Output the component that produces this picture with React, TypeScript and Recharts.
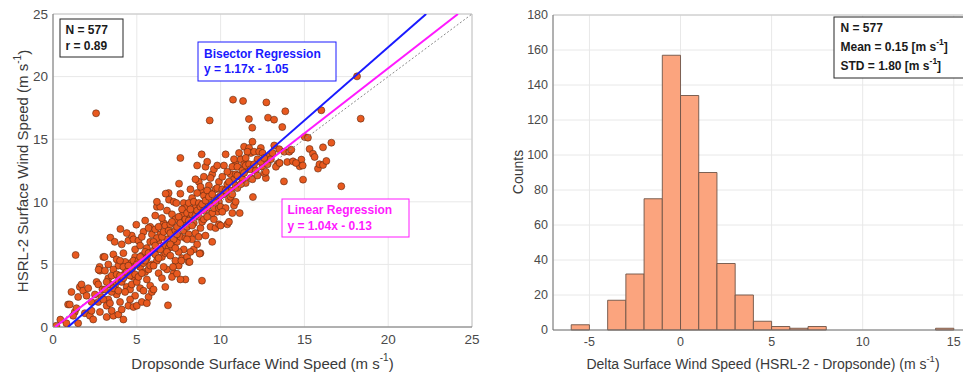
import React from 'react';
import { ScatterChart, Scatter, XAxis, YAxis, CartesianGrid, ReferenceLine, ReferenceArea } from 'recharts';

// ---------- Left panel data ----------
const scatterPairs: [number, number][] = [
  [0.2, 0.1], [0.44, 0.59], [0.8, 0.3], [0.9, 1.8],
  [1.0, 1.8], [1.1, 2.8], [1.35, 5.75], [1.3, 1.2], [1.5, 0.3], [1.4, 1.5], [1.6, 3.2], [1.7, 3.4], [1.5, 2.4], [1.9, 1.1], [1.8, 2.9], [2.0, 2.5], [1.2, 0.9],
  [2.1, 3.1], [2.2, 0.9], [2.3, 1.3], [2.5, 2.6], [2.6, 3.6], [2.7, 3.4], [2.8, 1.2], [2.9, 2.4], [2.4, 0.6], [2.8, 4.5], [2.57, 17.07], [2.3, 2.0], [2.95, 3.0], [2.7, 2.0], [2.78, 4.8], [2.72, 4.58],
  [3.0, 5.6], [3.1, 4.5], [3.2, 1.7], [3.3, 2.2], [3.3, 3.9], [3.42, 7.14], [3.5, 4.1], [3.6, 5.8], [3.7, 3.3], [3.2, 0.8], [3.6, 0.9], [3.8, 2.6], [3.9, 4.9], [3.5, 2.8], [3.4, 3.4], [3.68, 6.8], [3.9, 1.0], [3.1, 3.0], [3.8, 5.4], [3.6, 4.6], [3.3, 5.0], [3.9, 3.7], [3.5, 1.3], [3.08, 5.6],
  [3.0, 2.2], [3.2, 3.6], [3.4, 1.9], [3.6, 3.1], [3.8, 4.2], [3.9, 2.9],
  [4.02, 7.83], [4.1, 6.6], [4.2, 5.9], [4.3, 4.3], [4.4, 3.2], [4.2, 0.6], [4.5, 6.9], [4.6, 5.1], [4.7, 7.3], [4.8, 4.0], [4.9, 2.5], [4.0, 2.0], [4.1, 3.6], [4.3, 5.2], [4.5, 1.7], [4.6, 3.0], [4.7, 4.6], [4.9, 6.2], [4.4, 7.5], [4.8, 1.6], [4.2, 4.8], [4.6, 2.2], [4.0, 5.3], [4.9, 5.6], [4.3, 2.8], [4.7, 3.4], [4.5, 4.9], [4.1, 1.4], [4.8, 7.0],
  [4.0, 4.1], [4.2, 3.9], [4.4, 4.4], [4.6, 4.1], [4.8, 5.3], [4.9, 4.2],
  [4.97, 8.17], [5.1, 6.9], [5.2, 3.1], [5.3, 5.7], [5.4, 7.6], [5.5, 4.4], [5.6, 6.3], [5.7, 2.4], [5.8, 8.0], [5.9, 5.0], [5.0, 1.7], [5.2, 4.8], [5.4, 2.9], [5.6, 3.8], [5.8, 6.8], [5.1, 5.3], [5.3, 7.2], [5.5, 6.0], [5.7, 4.6], [5.9, 7.4], [5.0, 3.6], [5.3, 2.0], [5.6, 5.5], [5.8, 3.3], [5.2, 6.5], [5.4, 5.1], [5.7, 7.9], [5.9, 2.8], [5.1, 4.0], [5.5, 8.5], [5.6, 1.9],
  [5.0, 5.0], [5.2, 5.6], [5.3, 4.3], [5.5, 5.3], [5.7, 5.9], [5.8, 4.9],
  [6.0, 6.1], [6.1, 8.9], [6.2, 9.6], [6.3, 4.3], [6.4, 7.4], [6.5, 5.6], [6.6, 8.3], [6.7, 3.2], [6.8, 7.0], [6.9, 10.7], [6.0, 3.0], [6.2, 5.3], [6.4, 9.6], [6.6, 6.5], [6.8, 4.6], [6.1, 7.8], [6.3, 6.9], [6.5, 8.7], [6.7, 5.9], [6.86, 1.73], [6.0, 4.9], [6.3, 8.0], [6.5, 3.9], [6.8, 9.3], [6.2, 7.1], [6.6, 4.8], [6.9, 6.3], [6.1, 5.8], [6.4, 6.2], [6.7, 8.1], [6.92, 10.17], [6.2, 10.0], [6.72, 10.65],
  [6.0, 6.8], [6.1, 6.5], [6.3, 5.5], [6.5, 7.2], [6.6, 7.6], [6.8, 6.0], [6.9, 7.7],
  [7.0, 7.5], [7.1, 9.0], [7.2, 4.3], [7.3, 8.6], [7.4, 6.8], [7.52, 11.45], [7.6, 10.65], [7.7, 5.5], [7.8, 8.4], [7.9, 3.8], [7.0, 5.7], [7.2, 10.0], [7.36, 9.9], [7.6, 7.2], [7.8, 9.9], [7.1, 6.4], [7.3, 7.7], [7.5, 4.9], [7.7, 8.9], [7.9, 7.1], [7.0, 8.2], [7.3, 5.3], [7.6, 13.5], [7.8, 6.2], [7.2, 7.0], [7.4, 8.0], [7.9, 9.5], [7.1, 4.0], [7.5, 6.0], [7.7, 9.4], [7.6, 3.8],
  [7.0, 6.6], [7.1, 8.4], [7.3, 6.3], [7.4, 7.4], [7.5, 8.8], [7.6, 8.3], [7.8, 7.7], [7.9, 8.6], [7.4, 4.26], [7.16, 4.8], [7.66, 5.3],
  [8.0, 9.1], [8.1, 7.4], [8.2, 8.7], [8.3, 10.3], [8.4, 6.2], [8.5, 9.6], [8.6, 12.9], [8.7, 11.6], [8.8, 7.9], [8.9, 10.9], [8.0, 5.6], [8.2, 11.0], [8.4, 8.3], [8.6, 10.7], [8.8, 5.9], [8.1, 9.9], [8.3, 7.0], [8.5, 11.8], [8.7, 8.8], [8.89, 3.7], [8.0, 8.0], [8.3, 9.0], [8.6, 6.6], [8.87, 13.79], [8.2, 6.0], [8.4, 10.0], [8.7, 9.9], [8.5, 7.5], [8.8, 11.2], [8.1, 5.2], [8.9, 8.4],
  [8.0, 7.0], [8.1, 8.5], [8.2, 9.4], [8.3, 8.1], [8.5, 8.9], [8.6, 9.3], [8.7, 7.2], [8.8, 9.6], [8.9, 9.8], [8.15, 5.2], [8.75, 5.86],
  [9.0, 10.5], [9.1, 12.8], [9.2, 9.4], [9.3, 11.3], [9.4, 8.0], [9.5, 12.2], [9.6, 10.0], [9.7, 7.9], [9.8, 9.2], [9.9, 11.6], [9.0, 8.6], [9.2, 13.2], [9.4, 10.7], [9.6, 12.6], [9.8, 10.3], [9.1, 7.3], [9.3, 9.8], [9.5, 6.8], [9.7, 11.0], [9.9, 8.2], [9.0, 12.0], [9.35, 16.5], [9.4, 11.9], [9.6, 8.6], [9.8, 12.9], [9.2, 10.9], [9.5, 9.1], [9.9, 10.0],
  [9.0, 9.3], [9.1, 10.1], [9.2, 8.8], [9.3, 10.4], [9.5, 10.6], [9.6, 9.5], [9.7, 9.9], [9.8, 11.1], [9.9, 9.5],
  [10.0, 9.6], [10.1, 11.0], [10.2, 12.9], [10.3, 13.79], [10.4, 8.2], [10.5, 10.2], [10.6, 12.2], [10.7, 9.1], [10.8, 11.8], [10.9, 13.0], [10.0, 8.1], [10.2, 10.6], [10.4, 12.4], [10.6, 10.9], [10.8, 9.7], [10.1, 12.0], [10.3, 9.5], [10.5, 8.4], [10.7, 12.8], [10.9, 11.3], [10.74, 18.16], [10.6, 10.4], [10.8, 13.4], [10.4, 11.4], [10.9, 10.0],
  [10.0, 10.5], [10.1, 9.2], [10.3, 10.9], [10.5, 11.6], [10.7, 10.6], [10.9, 12.2],
  [11.0, 12.8], [11.14, 9.1], [11.2, 13.4], [11.34, 18.05], [11.4, 14.4], [11.5, 11.5], [11.6, 12.6], [11.7, 14.3], [11.8, 13.9], [11.93, 10.38], [11.0, 11.1], [11.2, 12.0], [11.4, 13.0], [11.6, 14.0], [11.8, 11.9], [11.1, 13.9], [11.3, 11.8], [11.5, 13.5], [11.69, 16.61], [11.89, 15.92], [11.9, 14.8], [11.3, 12.5], [11.9, 11.8],
  [11.0, 12.1], [11.2, 11.4], [11.4, 12.3], [11.5, 12.9], [11.7, 13.0], [11.8, 12.6],
  [12.0, 14.0], [12.2, 13.4], [12.4, 14.3], [12.5, 12.8], [12.7, 11.9], [12.73, 17.94], [12.83, 16.72], [12.8, 13.0], [12.1, 12.5], [12.3, 14.0], [12.6, 12.3], [12.9, 13.6], [12.4, 13.2], [12.7, 12.4], [12.5, 13.9], [12.0, 13.0], [12.2, 12.1], [12.6, 13.5],
  [13.0, 13.4], [13.19, 16.56], [13.2, 14.5], [13.4, 13.0], [13.5, 14.2], [13.68, 15.97], [13.78, 11.63], [13.86, 17.23], [13.5, 13.1], [13.98, 13.18], [13.3, 12.8], [13.8, 14.0], [13.1, 13.9], [13.52, 13.1],
  [14.1, 14.0], [14.22, 14.16], [14.32, 13.23], [14.72, 12.83], [14.82, 13.37], [14.92, 11.77], [14.5, 13.1], [14.9, 12.9],
  [15.02, 15.18], [15.21, 15.12], [15.31, 14.22], [15.51, 13.84], [15.61, 13.58], [15.81, 12.65], [15.9, 13.0], [16.01, 17.31], [16.11, 14.35], [16.11, 12.94],
  [16.31, 13.26], [16.61, 14.72], [17.2, 11.24], [18.14, 20.02], [18.36, 16.64],
];
const scatterData = scatterPairs.map(([x, y]) => ({ x, y }));

const bisector = { slope: 1.17, intercept: -1.05 };
const linearFit = { slope: 1.04, intercept: -0.13 };
const leftXTicks = [0, 5, 10, 15, 20, 25];
const leftYTicks = [0, 5, 10, 15, 20, 25];

const lineSegment = (fit: { slope: number; intercept: number }) => {
  const x0 = (0 - fit.intercept) / fit.slope;
  const x1 = (25 - fit.intercept) / fit.slope;
  return [{ x: x0, y: 0 }, { x: x1, y: 25 }];
};
const oneToOne = [{ x: 0, y: 0 }, { x: 25, y: 25 }];

// ---------- Right panel data ----------
const binStarts = [-6, -5, -4, -3, -2, -1, 0, 1, 2, 3, 4, 5, 6, 7, 8, 9, 10, 11, 12, 13, 14];
const binCounts = [3, 0, 17, 32, 75, 157, 134, 90, 38, 20, 5, 2, 1, 2, 0, 0, 0, 0, 0, 0, 1];
const binWidth = 1;
const rightXTicks = [-5, 0, 5, 10, 15];
const rightYTicks = [0, 20, 40, 60, 80, 100, 120, 140, 160, 180];
const histData = binStarts.map((s, i) => ({ x: s + binWidth / 2, y: binCounts[i] }));

const FONT = '"Liberation Sans", Arial, Helvetica, sans-serif';
const AXIS_COLOR = '#6e6e6e';
const TICK_COLOR = '#4a4a4a';
const GRID = '#e8e8e8';

const NoDot = () => <g />;

export default function App() {
  return (
    <div style={{ position: 'absolute', left: 0, top: 0, width: 963, height: 377, overflow: 'hidden', background: '#fff', fontFamily: FONT }}>
      {/* Left scatter */}
      <div style={{ position: 'absolute', left: 0, top: 0 }}>
        <ScatterChart width={480} height={377} margin={{ top: 14, right: 8, bottom: 20, left: 13 }}>
          <CartesianGrid stroke={GRID} strokeWidth={1} />
          <XAxis type="number" dataKey="x" domain={[0, 25]} ticks={leftXTicks} allowDataOverflow
            tickLine={false} tickSize={4} tickMargin={3} height={30}
            axisLine={{ stroke: AXIS_COLOR }} tick={{ fill: TICK_COLOR, fontSize: 13.5, fontFamily: FONT }} />
          <YAxis type="number" dataKey="y" domain={[0, 25]} ticks={leftYTicks} allowDataOverflow
            tickLine={false} tickSize={3} tickMargin={2} width={40}
            axisLine={{ stroke: AXIS_COLOR }} tick={{ fill: TICK_COLOR, fontSize: 13.5, fontFamily: FONT }} />
          <ReferenceLine y={25} stroke="#c4c4c4" />
          <ReferenceLine x={25} stroke="#c4c4c4" />
          <Scatter data={scatterData} isAnimationActive={false}
            shape={(p: any) => <circle cx={p.cx} cy={p.cy} r={3.5} fill="#E8591F" stroke="#5a2810" strokeWidth={0.6} />} />
          <Scatter data={oneToOne} isAnimationActive={false} line={{ stroke: '#8a8a8a', strokeWidth: 1, strokeDasharray: '2 2' }} lineType="joint" shape={NoDot} />
          <Scatter data={lineSegment(linearFit)} isAnimationActive={false} line={{ stroke: '#ff1aff', strokeWidth: 2 }} lineType="joint" shape={NoDot} />
          <Scatter data={lineSegment(bisector)} isAnimationActive={false} line={{ stroke: '#1a1aff', strokeWidth: 2 }} lineType="joint" shape={NoDot} />
        </ScatterChart>
      </div>

      {/* Right histogram */}
      <div style={{ position: 'absolute', left: 480, top: 0 }}>
        <ScatterChart width={492} height={377} margin={{ top: 15, right: 0, bottom: 17, left: 33 }}>
          <CartesianGrid stroke={GRID} strokeWidth={1} />
          <XAxis type="number" dataKey="x" domain={[-7, 16]} ticks={rightXTicks} allowDataOverflow
            tickLine={false} tickSize={4} tickMargin={3} height={30}
            axisLine={{ stroke: AXIS_COLOR }} tick={{ fill: TICK_COLOR, fontSize: 12.5, fontFamily: FONT }} />
          <YAxis type="number" dataKey="y" domain={[0, 180]} ticks={rightYTicks} allowDataOverflow
            tickLine={false} tickSize={3} tickMargin={2} width={40}
            axisLine={{ stroke: AXIS_COLOR }} tick={{ fill: TICK_COLOR, fontSize: 12.5, fontFamily: FONT }} />
          <ReferenceLine y={180} stroke="#c4c4c4" />
          <Scatter data={histData} isAnimationActive={false} shape={NoDot} />
          {binStarts.map((s, i) =>
            binCounts[i] > 0 ? (
              <ReferenceArea key={s} x1={s} x2={s + binWidth} y1={0} y2={binCounts[i]}
                fill="#FBA47E" fillOpacity={1} stroke="#6e5446" strokeWidth={0.9} ifOverflow="visible" />
            ) : null
          )}
        </ScatterChart>
      </div>

      {/* Text overlay */}
      <svg width={963} height={377} style={{ position: 'absolute', left: 0, top: 0, pointerEvents: 'none' }} fontFamily={FONT}>
        {/* left axis labels */}
        <text x={262.5} y={363} textAnchor="middle" dominantBaseline="central" fontSize={15} fill="#3a3a3a">
          Dropsonde Surface Wind Speed (m s<tspan fontSize={10} dy={-6}>-1</tspan><tspan dy={6}>)</tspan>
        </text>
        <text transform="translate(22.7,171) rotate(-90)" textAnchor="middle" dominantBaseline="central" fontSize={15} fill="#3a3a3a">
          HSRL-2 Surface Wind Speed (m s<tspan fontSize={10} dy={-6}>-1</tspan><tspan dy={6}>)</tspan>
        </text>
        {/* right axis labels */}
        <text x={763} y={364} textAnchor="middle" dominantBaseline="central" fontSize={14} fill="#3a3a3a">
          Delta Surface Wind Speed (HSRL-2 - Dropsonde) (m s<tspan fontSize={9.5} dy={-6}>-1</tspan><tspan dy={6}>)</tspan>
        </text>
        <text transform="translate(517.7,172) rotate(-90)" textAnchor="middle" dominantBaseline="central" fontSize={14} fill="#3a3a3a">
          Counts
        </text>

        {/* N / r box */}
        <rect x={60} y={19} width={63} height={38} fill="#fff" stroke="#262626" strokeWidth={1} />
        <text x={65.5} y={30} dominantBaseline="central" fontSize={12} fontWeight="bold" fill="#1a1a1a">N = 577</text>
        <text x={65.5} y={46} dominantBaseline="central" fontSize={12} fontWeight="bold" fill="#1a1a1a">r = 0.89</text>

        {/* Bisector box */}
        <rect x={198} y={42} width={138} height={39} fill="#fff" stroke="#1a1aff" strokeWidth={1} />
        <text x={204} y={53.5} dominantBaseline="central" fontSize={12} fontWeight="bold" fill="#1a1aff">Bisector Regression</text>
        <text x={204} y={69} dominantBaseline="central" fontSize={12} fontWeight="bold" fill="#1a1aff">y = 1.17x - 1.05</text>

        {/* Linear box */}
        <rect x={282} y={199} width={127} height={38} fill="#fff" stroke="#ff1aff" strokeWidth={1} />
        <text x={287.5} y={210} dominantBaseline="central" fontSize={12} fontWeight="bold" fill="#ff1aff">Linear Regression</text>
        <text x={287.5} y={226} dominantBaseline="central" fontSize={12} fontWeight="bold" fill="#ff1aff">y = 1.04x - 0.13</text>

        {/* Right stats box */}
        <rect x={834} y={17} width={135} height={61} fill="#fff" stroke="#262626" strokeWidth={1} />
        <text x={840.5} y={28} dominantBaseline="central" fontSize={12} fontWeight="bold" fill="#1a1a1a">N = 577</text>
        <text x={840.5} y={47} dominantBaseline="central" fontSize={12} fontWeight="bold" fill="#1a1a1a">
          Mean = 0.15 [m s<tspan fontSize={8.5} dy={-5}>-1</tspan><tspan dy={5}>]</tspan>
        </text>
        <text x={840.5} y={66} dominantBaseline="central" fontSize={12} fontWeight="bold" fill="#1a1a1a">
          STD = 1.80 [m s<tspan fontSize={8.5} dy={-5}>-1</tspan><tspan dy={5}>]</tspan>
        </text>
      </svg>
    </div>
  );
}
